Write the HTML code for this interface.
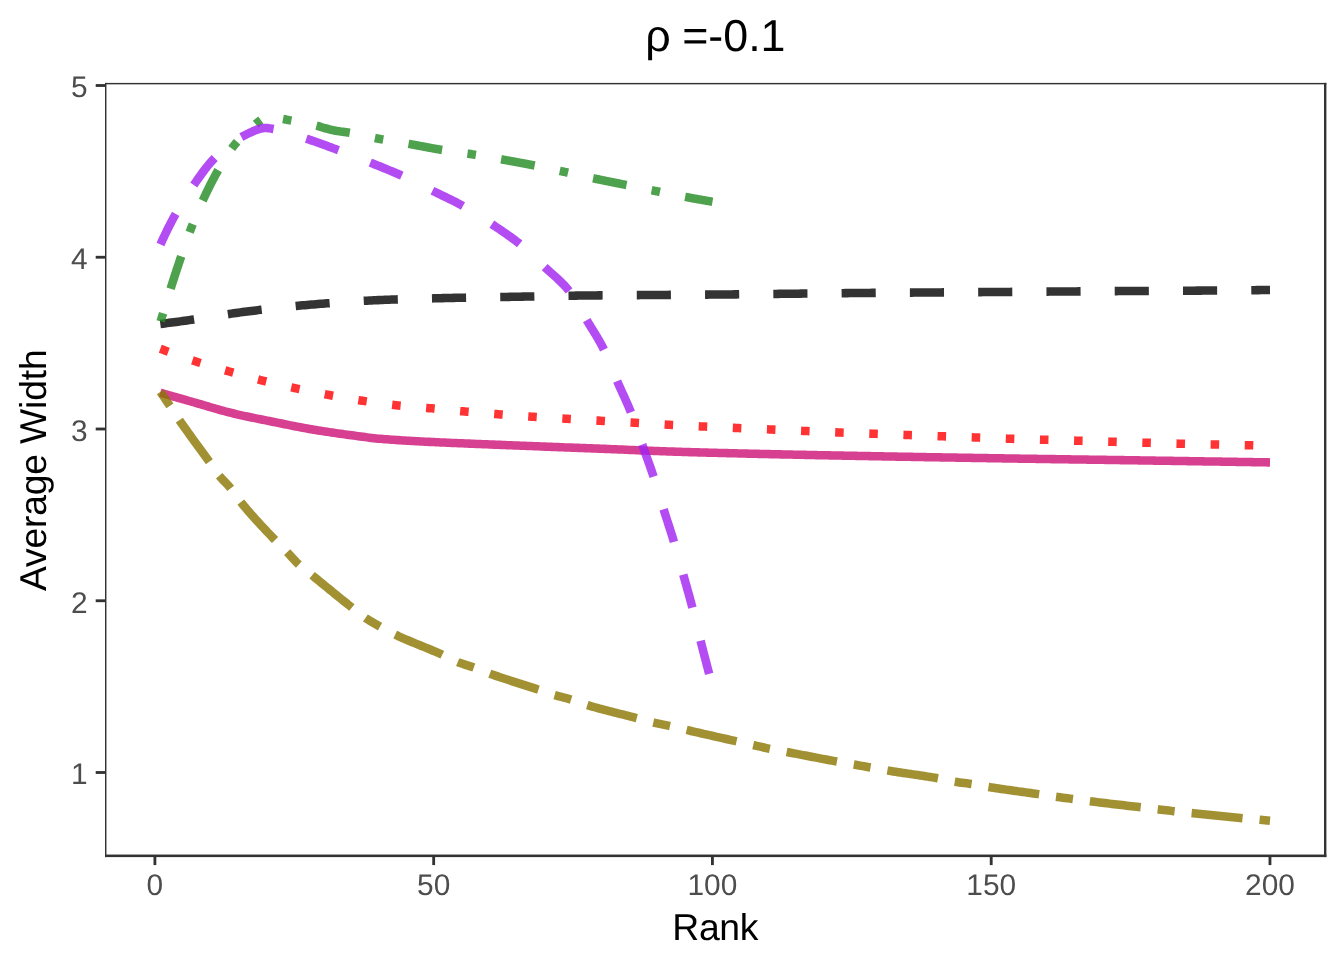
<!DOCTYPE html>
<html><head><meta charset="utf-8"><title>rho = -0.1</title>
<style>
html,body{margin:0;padding:0;background:#fff;}
svg{display:block;font-family:"Liberation Sans",sans-serif;text-rendering:geometricPrecision;}
.tick text{font-size:29.87px;fill:#4D4D4D;}
.axt{font-size:37.33px;fill:#000;}
.ttl{font-size:44.8px;fill:#000;}
</style></head>
<body>
<svg width="1344" height="960" viewBox="0 0 1344 960">
<rect width="1344" height="960" fill="#fff"/>
<g class="lines">
<path d="M160.30,392.70 L162.52,393.34 L164.75,393.98 L166.97,394.62 L169.20,395.26 L171.42,395.90 L173.64,396.53 L175.87,397.17 L178.09,397.81 L180.31,398.44 L182.54,399.08 L184.76,399.71 L186.99,400.34 L189.21,400.98 L191.43,401.61 L193.66,402.25 L195.88,402.90 L198.11,403.55 L200.33,404.20 L202.55,404.86 L204.78,405.52 L207.00,406.17 L209.22,406.83 L211.45,407.48 L213.67,408.13 L215.90,408.77 L218.12,409.40 L220.34,410.03 L222.57,410.64 L224.79,411.25 L227.02,411.84 L229.24,412.42 L231.46,412.98 L233.69,413.52 L235.91,414.05 L238.13,414.57 L240.36,415.08 L242.58,415.57 L244.81,416.06 L247.03,416.54 L249.25,417.01 L251.48,417.47 L253.70,417.93 L255.93,418.38 L258.15,418.83 L260.37,419.28 L262.60,419.72 L264.82,420.16 L267.04,420.61 L269.27,421.05 L271.49,421.50 L273.72,421.94 L275.94,422.39 L278.16,422.85 L280.39,423.30 L282.61,423.75 L284.84,424.21 L287.06,424.66 L289.28,425.11 L291.51,425.56 L293.73,426.01 L295.95,426.45 L298.18,426.88 L300.40,427.31 L302.63,427.73 L304.85,428.14 L307.07,428.54 L309.30,428.94 L311.52,429.32 L313.75,429.69 L315.97,430.06 L318.19,430.42 L320.42,430.77 L322.64,431.12 L324.86,431.46 L327.09,431.80 L329.31,432.13 L331.54,432.46 L333.76,432.79 L335.98,433.11 L338.21,433.43 L340.43,433.74 L342.66,434.05 L344.88,434.36 L347.10,434.66 L349.33,434.97 L351.55,435.27 L353.77,435.57 L356.00,435.87 L358.22,436.18 L360.45,436.49 L362.67,436.80 L364.89,437.10 L367.12,437.39 L369.34,437.68 L371.57,437.95 L373.79,438.20 L376.01,438.42 L378.24,438.63 L380.46,438.82 L382.68,439.00 L384.91,439.18 L387.13,439.35 L389.36,439.52 L391.58,439.68 L393.80,439.84 L396.03,439.99 L398.25,440.13 L400.48,440.27 L402.70,440.41 L404.92,440.55 L407.15,440.68 L409.37,440.80 L411.59,440.93 L413.82,441.05 L416.04,441.17 L418.27,441.29 L420.49,441.41 L422.71,441.52 L424.94,441.64 L427.16,441.75 L429.39,441.87 L431.61,441.98 L433.83,442.09 L436.06,442.20 L438.28,442.31 L440.50,442.41 L442.73,442.51 L444.95,442.61 L447.18,442.71 L449.40,442.80 L451.62,442.90 L453.85,442.99 L456.07,443.09 L458.30,443.18 L460.52,443.27 L462.74,443.36 L464.97,443.45 L467.19,443.54 L469.41,443.63 L471.64,443.72 L473.86,443.81 L476.09,443.90 L478.31,443.99 L480.53,444.09 L482.76,444.18 L484.98,444.26 L487.21,444.35 L489.43,444.44 L491.65,444.53 L493.88,444.62 L496.10,444.70 L498.32,444.79 L500.55,444.88 L502.77,444.96 L505.00,445.05 L507.22,445.14 L509.44,445.22 L511.67,445.31 L513.89,445.40 L516.12,445.48 L518.34,445.57 L520.56,445.66 L522.79,445.74 L525.01,445.83 L527.23,445.92 L529.46,446.01 L531.68,446.09 L533.91,446.18 L536.13,446.27 L538.35,446.35 L540.58,446.44 L542.80,446.53 L545.03,446.61 L547.25,446.70 L549.47,446.79 L551.70,446.87 L553.92,446.96 L556.14,447.05 L558.37,447.13 L560.59,447.22 L562.82,447.30 L565.04,447.39 L567.26,447.47 L569.49,447.56 L571.71,447.64 L573.94,447.72 L576.16,447.81 L578.38,447.89 L580.61,447.97 L582.83,448.05 L585.05,448.13 L587.28,448.21 L589.50,448.29 L591.73,448.37 L593.95,448.45 L596.17,448.53 L598.40,448.62 L600.62,448.70 L602.85,448.79 L605.07,448.87 L607.29,448.96 L609.52,449.05 L611.74,449.14 L613.96,449.24 L616.19,449.33 L618.41,449.42 L620.64,449.52 L622.86,449.61 L625.08,449.71 L627.31,449.80 L629.53,449.90 L631.76,449.99 L633.98,450.09 L636.20,450.18 L638.43,450.28 L640.65,450.37 L642.87,450.46 L645.10,450.56 L647.32,450.65 L649.55,450.74 L651.77,450.83 L653.99,450.92 L656.22,451.00 L658.44,451.09 L660.67,451.17 L662.89,451.26 L665.11,451.34 L667.34,451.41 L669.56,451.49 L671.78,451.57 L674.01,451.64 L676.23,451.71 L678.46,451.78 L680.68,451.84 L682.90,451.91 L685.13,451.98 L687.35,452.04 L689.58,452.11 L691.80,452.17 L694.02,452.24 L696.25,452.30 L698.47,452.36 L700.69,452.42 L702.92,452.49 L705.14,452.55 L707.37,452.61 L709.59,452.67 L711.81,452.73 L714.04,452.79 L716.26,452.84 L718.49,452.90 L720.71,452.96 L722.93,453.02 L725.16,453.07 L727.38,453.13 L729.61,453.18 L731.83,453.24 L734.05,453.29 L736.28,453.35 L738.50,453.40 L740.72,453.46 L742.95,453.51 L745.17,453.56 L747.40,453.61 L749.62,453.67 L751.84,453.72 L754.07,453.77 L756.29,453.82 L758.52,453.87 L760.74,453.92 L762.96,453.97 L765.19,454.02 L767.41,454.07 L769.63,454.12 L771.86,454.17 L774.08,454.22 L776.31,454.27 L778.53,454.31 L780.75,454.36 L782.98,454.41 L785.20,454.46 L787.43,454.51 L789.65,454.55 L791.87,454.60 L794.10,454.65 L796.32,454.69 L798.54,454.74 L800.77,454.79 L802.99,454.83 L805.22,454.88 L807.44,454.93 L809.66,454.97 L811.89,455.02 L814.11,455.06 L816.34,455.11 L818.56,455.16 L820.78,455.20 L823.01,455.25 L825.23,455.29 L827.45,455.33 L829.68,455.38 L831.90,455.42 L834.13,455.47 L836.35,455.51 L838.57,455.55 L840.80,455.60 L843.02,455.64 L845.25,455.68 L847.47,455.72 L849.69,455.77 L851.92,455.81 L854.14,455.85 L856.36,455.89 L858.59,455.93 L860.81,455.98 L863.04,456.02 L865.26,456.06 L867.48,456.10 L869.71,456.14 L871.93,456.18 L874.16,456.22 L876.38,456.26 L878.60,456.30 L880.83,456.34 L883.05,456.38 L885.27,456.42 L887.50,456.46 L889.72,456.50 L891.95,456.54 L894.17,456.58 L896.39,456.61 L898.62,456.65 L900.84,456.69 L903.07,456.73 L905.29,456.77 L907.51,456.81 L909.74,456.84 L911.96,456.88 L914.18,456.92 L916.41,456.96 L918.63,457.00 L920.86,457.03 L923.08,457.07 L925.30,457.11 L927.53,457.15 L929.75,457.18 L931.98,457.22 L934.20,457.26 L936.42,457.29 L938.65,457.33 L940.87,457.37 L943.09,457.40 L945.32,457.44 L947.54,457.48 L949.77,457.51 L951.99,457.55 L954.21,457.59 L956.44,457.62 L958.66,457.66 L960.89,457.70 L963.11,457.73 L965.33,457.77 L967.56,457.81 L969.78,457.84 L972.00,457.88 L974.23,457.91 L976.45,457.95 L978.68,457.99 L980.90,458.02 L983.12,458.06 L985.35,458.09 L987.57,458.13 L989.80,458.17 L992.02,458.20 L994.24,458.24 L996.47,458.27 L998.69,458.31 L1000.91,458.34 L1003.14,458.37 L1005.36,458.41 L1007.59,458.44 L1009.81,458.48 L1012.03,458.51 L1014.26,458.55 L1016.48,458.58 L1018.71,458.61 L1020.93,458.65 L1023.15,458.68 L1025.38,458.71 L1027.60,458.75 L1029.82,458.78 L1032.05,458.81 L1034.27,458.85 L1036.50,458.88 L1038.72,458.91 L1040.94,458.95 L1043.17,458.98 L1045.39,459.01 L1047.62,459.04 L1049.84,459.08 L1052.06,459.11 L1054.29,459.14 L1056.51,459.17 L1058.73,459.21 L1060.96,459.24 L1063.18,459.27 L1065.41,459.30 L1067.63,459.34 L1069.85,459.37 L1072.08,459.40 L1074.30,459.43 L1076.53,459.46 L1078.75,459.50 L1080.97,459.53 L1083.20,459.56 L1085.42,459.59 L1087.64,459.63 L1089.87,459.66 L1092.09,459.69 L1094.32,459.72 L1096.54,459.75 L1098.76,459.79 L1100.99,459.82 L1103.21,459.85 L1105.44,459.88 L1107.66,459.92 L1109.88,459.95 L1112.11,459.98 L1114.33,460.01 L1116.55,460.05 L1118.78,460.08 L1121.00,460.11 L1123.23,460.14 L1125.45,460.18 L1127.67,460.21 L1129.90,460.24 L1132.12,460.28 L1134.35,460.31 L1136.57,460.34 L1138.79,460.38 L1141.02,460.41 L1143.24,460.44 L1145.46,460.48 L1147.69,460.51 L1149.91,460.54 L1152.14,460.58 L1154.36,460.61 L1156.58,460.65 L1158.81,460.68 L1161.03,460.71 L1163.26,460.75 L1165.48,460.78 L1167.70,460.82 L1169.93,460.85 L1172.15,460.88 L1174.37,460.92 L1176.60,460.95 L1178.82,460.99 L1181.05,461.02 L1183.27,461.05 L1185.49,461.09 L1187.72,461.12 L1189.94,461.16 L1192.17,461.19 L1194.39,461.23 L1196.61,461.26 L1198.84,461.29 L1201.06,461.33 L1203.28,461.36 L1205.51,461.40 L1207.73,461.43 L1209.96,461.47 L1212.18,461.50 L1214.40,461.53 L1216.63,461.57 L1218.85,461.60 L1221.08,461.64 L1223.30,461.67 L1225.52,461.71 L1227.75,461.74 L1229.97,461.78 L1232.19,461.81 L1234.42,461.84 L1236.64,461.88 L1238.87,461.91 L1241.09,461.95 L1243.31,461.98 L1245.54,462.02 L1247.76,462.05 L1249.99,462.09 L1252.21,462.12 L1254.43,462.16 L1256.66,462.19 L1258.88,462.23 L1261.10,462.26 L1263.33,462.30 L1265.55,462.33 L1267.78,462.37 L1270.00,462.40" fill="none" stroke="#CD1076" stroke-opacity="0.8" stroke-width="8.536" stroke-linejoin="round"/>
<path d="M160.30,324.00 L162.52,323.71 L164.75,323.43 L166.97,323.14 L169.20,322.85 L171.42,322.55 L173.64,322.26 L175.87,321.96 L178.09,321.66 L180.31,321.36 L182.54,321.06 L184.76,320.76 L186.99,320.45 L189.21,320.14 L191.43,319.83 L193.66,319.51 L195.88,319.19 L198.11,318.87 L200.33,318.53 L202.55,318.19 L204.78,317.85 L207.00,317.50 L209.22,317.15 L211.45,316.80 L213.67,316.44 L215.90,316.08 L218.12,315.73 L220.34,315.37 L222.57,315.02 L224.79,314.67 L227.02,314.32 L229.24,313.98 L231.46,313.64 L233.69,313.31 L235.91,312.99 L238.13,312.67 L240.36,312.36 L242.58,312.06 L244.81,311.77 L247.03,311.49 L249.25,311.21 L251.48,310.94 L253.70,310.66 L255.93,310.39 L258.15,310.12 L260.37,309.85 L262.60,309.59 L264.82,309.32 L267.04,309.06 L269.27,308.81 L271.49,308.55 L273.72,308.30 L275.94,308.05 L278.16,307.81 L280.39,307.57 L282.61,307.33 L284.84,307.09 L287.06,306.86 L289.28,306.63 L291.51,306.41 L293.73,306.19 L295.95,305.97 L298.18,305.76 L300.40,305.55 L302.63,305.35 L304.85,305.15 L307.07,304.96 L309.30,304.77 L311.52,304.58 L313.75,304.40 L315.97,304.22 L318.19,304.04 L320.42,303.86 L322.64,303.69 L324.86,303.51 L327.09,303.34 L329.31,303.17 L331.54,303.00 L333.76,302.83 L335.98,302.67 L338.21,302.51 L340.43,302.35 L342.66,302.19 L344.88,302.04 L347.10,301.89 L349.33,301.74 L351.55,301.59 L353.77,301.45 L356.00,301.31 L358.22,301.17 L360.45,301.04 L362.67,300.91 L364.89,300.79 L367.12,300.67 L369.34,300.55 L371.57,300.44 L373.79,300.33 L376.01,300.23 L378.24,300.13 L380.46,300.03 L382.68,299.94 L384.91,299.85 L387.13,299.77 L389.36,299.68 L391.58,299.60 L393.80,299.52 L396.03,299.44 L398.25,299.37 L400.48,299.29 L402.70,299.22 L404.92,299.15 L407.15,299.08 L409.37,299.01 L411.59,298.95 L413.82,298.88 L416.04,298.82 L418.27,298.76 L420.49,298.69 L422.71,298.63 L424.94,298.58 L427.16,298.52 L429.39,298.46 L431.61,298.41 L433.83,298.35 L436.06,298.30 L438.28,298.24 L440.50,298.19 L442.73,298.14 L444.95,298.09 L447.18,298.04 L449.40,297.99 L451.62,297.94 L453.85,297.89 L456.07,297.84 L458.30,297.79 L460.52,297.75 L462.74,297.71 L464.97,297.66 L467.19,297.62 L469.41,297.58 L471.64,297.54 L473.86,297.50 L476.09,297.46 L478.31,297.42 L480.53,297.38 L482.76,297.34 L484.98,297.30 L487.21,297.26 L489.43,297.23 L491.65,297.19 L493.88,297.15 L496.10,297.11 L498.32,297.07 L500.55,297.04 L502.77,297.00 L505.00,296.96 L507.22,296.92 L509.44,296.88 L511.67,296.85 L513.89,296.81 L516.12,296.77 L518.34,296.73 L520.56,296.68 L522.79,296.64 L525.01,296.60 L527.23,296.55 L529.46,296.51 L531.68,296.46 L533.91,296.42 L536.13,296.37 L538.35,296.33 L540.58,296.28 L542.80,296.24 L545.03,296.19 L547.25,296.14 L549.47,296.10 L551.70,296.05 L553.92,296.01 L556.14,295.97 L558.37,295.92 L560.59,295.88 L562.82,295.84 L565.04,295.80 L567.26,295.76 L569.49,295.73 L571.71,295.69 L573.94,295.66 L576.16,295.62 L578.38,295.59 L580.61,295.56 L582.83,295.54 L585.05,295.51 L587.28,295.49 L589.50,295.46 L591.73,295.44 L593.95,295.42 L596.17,295.40 L598.40,295.38 L600.62,295.36 L602.85,295.35 L605.07,295.33 L607.29,295.31 L609.52,295.30 L611.74,295.28 L613.96,295.26 L616.19,295.25 L618.41,295.23 L620.64,295.22 L622.86,295.21 L625.08,295.19 L627.31,295.18 L629.53,295.16 L631.76,295.15 L633.98,295.13 L636.20,295.12 L638.43,295.11 L640.65,295.09 L642.87,295.08 L645.10,295.06 L647.32,295.05 L649.55,295.03 L651.77,295.02 L653.99,295.00 L656.22,294.98 L658.44,294.97 L660.67,294.95 L662.89,294.94 L665.11,294.92 L667.34,294.91 L669.56,294.89 L671.78,294.87 L674.01,294.86 L676.23,294.84 L678.46,294.83 L680.68,294.81 L682.90,294.80 L685.13,294.78 L687.35,294.77 L689.58,294.75 L691.80,294.74 L694.02,294.72 L696.25,294.70 L698.47,294.69 L700.69,294.67 L702.92,294.65 L705.14,294.64 L707.37,294.62 L709.59,294.60 L711.81,294.59 L714.04,294.57 L716.26,294.55 L718.49,294.53 L720.71,294.51 L722.93,294.49 L725.16,294.47 L727.38,294.45 L729.61,294.43 L731.83,294.41 L734.05,294.38 L736.28,294.36 L738.50,294.34 L740.72,294.31 L742.95,294.29 L745.17,294.27 L747.40,294.24 L749.62,294.22 L751.84,294.19 L754.07,294.17 L756.29,294.14 L758.52,294.11 L760.74,294.09 L762.96,294.06 L765.19,294.04 L767.41,294.01 L769.63,293.98 L771.86,293.96 L774.08,293.93 L776.31,293.91 L778.53,293.88 L780.75,293.85 L782.98,293.83 L785.20,293.80 L787.43,293.78 L789.65,293.75 L791.87,293.73 L794.10,293.70 L796.32,293.68 L798.54,293.65 L800.77,293.63 L802.99,293.60 L805.22,293.58 L807.44,293.55 L809.66,293.53 L811.89,293.50 L814.11,293.48 L816.34,293.45 L818.56,293.42 L820.78,293.40 L823.01,293.37 L825.23,293.35 L827.45,293.32 L829.68,293.30 L831.90,293.27 L834.13,293.25 L836.35,293.22 L838.57,293.20 L840.80,293.18 L843.02,293.15 L845.25,293.13 L847.47,293.11 L849.69,293.09 L851.92,293.06 L854.14,293.04 L856.36,293.02 L858.59,293.00 L860.81,292.98 L863.04,292.97 L865.26,292.95 L867.48,292.93 L869.71,292.91 L871.93,292.89 L874.16,292.88 L876.38,292.86 L878.60,292.84 L880.83,292.83 L883.05,292.81 L885.27,292.79 L887.50,292.78 L889.72,292.76 L891.95,292.75 L894.17,292.73 L896.39,292.71 L898.62,292.70 L900.84,292.68 L903.07,292.67 L905.29,292.65 L907.51,292.64 L909.74,292.62 L911.96,292.61 L914.18,292.59 L916.41,292.58 L918.63,292.56 L920.86,292.54 L923.08,292.53 L925.30,292.51 L927.53,292.50 L929.75,292.48 L931.98,292.46 L934.20,292.45 L936.42,292.43 L938.65,292.41 L940.87,292.40 L943.09,292.38 L945.32,292.37 L947.54,292.35 L949.77,292.33 L951.99,292.32 L954.21,292.30 L956.44,292.28 L958.66,292.27 L960.89,292.25 L963.11,292.24 L965.33,292.22 L967.56,292.20 L969.78,292.19 L972.00,292.17 L974.23,292.16 L976.45,292.14 L978.68,292.12 L980.90,292.11 L983.12,292.09 L985.35,292.07 L987.57,292.06 L989.80,292.04 L992.02,292.03 L994.24,292.01 L996.47,291.99 L998.69,291.98 L1000.91,291.96 L1003.14,291.94 L1005.36,291.93 L1007.59,291.91 L1009.81,291.90 L1012.03,291.88 L1014.26,291.86 L1016.48,291.85 L1018.71,291.83 L1020.93,291.81 L1023.15,291.80 L1025.38,291.78 L1027.60,291.77 L1029.82,291.75 L1032.05,291.73 L1034.27,291.72 L1036.50,291.70 L1038.72,291.68 L1040.94,291.67 L1043.17,291.65 L1045.39,291.64 L1047.62,291.62 L1049.84,291.60 L1052.06,291.59 L1054.29,291.57 L1056.51,291.55 L1058.73,291.54 L1060.96,291.52 L1063.18,291.51 L1065.41,291.49 L1067.63,291.47 L1069.85,291.46 L1072.08,291.44 L1074.30,291.42 L1076.53,291.41 L1078.75,291.39 L1080.97,291.37 L1083.20,291.36 L1085.42,291.34 L1087.64,291.32 L1089.87,291.31 L1092.09,291.29 L1094.32,291.27 L1096.54,291.25 L1098.76,291.24 L1100.99,291.22 L1103.21,291.20 L1105.44,291.19 L1107.66,291.17 L1109.88,291.15 L1112.11,291.14 L1114.33,291.12 L1116.55,291.11 L1118.78,291.09 L1121.00,291.07 L1123.23,291.06 L1125.45,291.04 L1127.67,291.03 L1129.90,291.01 L1132.12,291.00 L1134.35,290.98 L1136.57,290.97 L1138.79,290.96 L1141.02,290.94 L1143.24,290.93 L1145.46,290.92 L1147.69,290.90 L1149.91,290.89 L1152.14,290.88 L1154.36,290.87 L1156.58,290.85 L1158.81,290.84 L1161.03,290.83 L1163.26,290.82 L1165.48,290.81 L1167.70,290.79 L1169.93,290.78 L1172.15,290.77 L1174.37,290.76 L1176.60,290.75 L1178.82,290.74 L1181.05,290.72 L1183.27,290.71 L1185.49,290.70 L1187.72,290.69 L1189.94,290.67 L1192.17,290.66 L1194.39,290.65 L1196.61,290.64 L1198.84,290.62 L1201.06,290.61 L1203.28,290.59 L1205.51,290.58 L1207.73,290.56 L1209.96,290.55 L1212.18,290.53 L1214.40,290.52 L1216.63,290.50 L1218.85,290.49 L1221.08,290.47 L1223.30,290.45 L1225.52,290.43 L1227.75,290.42 L1229.97,290.40 L1232.19,290.38 L1234.42,290.36 L1236.64,290.34 L1238.87,290.32 L1241.09,290.30 L1243.31,290.27 L1245.54,290.25 L1247.76,290.23 L1249.99,290.21 L1252.21,290.19 L1254.43,290.16 L1256.66,290.14 L1258.88,290.12 L1261.10,290.09 L1263.33,290.07 L1265.55,290.05 L1267.78,290.02 L1270.00,290.00" fill="none" stroke="#000000" stroke-opacity="0.8" stroke-width="8.536" stroke-linejoin="round" stroke-dasharray="34.14,34.14"/>
<path d="M160.30,348.80 L162.52,349.62 L164.75,350.43 L166.97,351.24 L169.20,352.06 L171.42,352.87 L173.64,353.69 L175.87,354.51 L178.09,355.32 L180.31,356.13 L182.54,356.94 L184.76,357.73 L186.99,358.52 L189.21,359.30 L191.43,360.06 L193.66,360.81 L195.88,361.55 L198.11,362.27 L200.33,362.98 L202.55,363.67 L204.78,364.36 L207.00,365.04 L209.22,365.71 L211.45,366.37 L213.67,367.02 L215.90,367.67 L218.12,368.32 L220.34,368.96 L222.57,369.59 L224.79,370.23 L227.02,370.86 L229.24,371.50 L231.46,372.13 L233.69,372.76 L235.91,373.39 L238.13,374.02 L240.36,374.64 L242.58,375.26 L244.81,375.87 L247.03,376.48 L249.25,377.09 L251.48,377.69 L253.70,378.28 L255.93,378.87 L258.15,379.45 L260.37,380.02 L262.60,380.59 L264.82,381.15 L267.04,381.70 L269.27,382.25 L271.49,382.79 L273.72,383.33 L275.94,383.86 L278.16,384.39 L280.39,384.91 L282.61,385.42 L284.84,385.94 L287.06,386.44 L289.28,386.94 L291.51,387.43 L293.73,387.92 L295.95,388.40 L298.18,388.88 L300.40,389.35 L302.63,389.82 L304.85,390.28 L307.07,390.74 L309.30,391.19 L311.52,391.64 L313.75,392.08 L315.97,392.52 L318.19,392.95 L320.42,393.38 L322.64,393.81 L324.86,394.23 L327.09,394.65 L329.31,395.06 L331.54,395.47 L333.76,395.88 L335.98,396.28 L338.21,396.68 L340.43,397.08 L342.66,397.48 L344.88,397.87 L347.10,398.26 L349.33,398.64 L351.55,399.01 L353.77,399.38 L356.00,399.74 L358.22,400.09 L360.45,400.44 L362.67,400.78 L364.89,401.11 L367.12,401.43 L369.34,401.76 L371.57,402.08 L373.79,402.40 L376.01,402.71 L378.24,403.01 L380.46,403.31 L382.68,403.61 L384.91,403.89 L387.13,404.17 L389.36,404.44 L391.58,404.70 L393.80,404.96 L396.03,405.20 L398.25,405.43 L400.48,405.65 L402.70,405.87 L404.92,406.07 L407.15,406.27 L409.37,406.46 L411.59,406.65 L413.82,406.84 L416.04,407.02 L418.27,407.20 L420.49,407.39 L422.71,407.57 L424.94,407.76 L427.16,407.95 L429.39,408.15 L431.61,408.35 L433.83,408.56 L436.06,408.77 L438.28,408.99 L440.50,409.20 L442.73,409.42 L444.95,409.64 L447.18,409.86 L449.40,410.08 L451.62,410.30 L453.85,410.51 L456.07,410.73 L458.30,410.94 L460.52,411.14 L462.74,411.34 L464.97,411.54 L467.19,411.73 L469.41,411.92 L471.64,412.11 L473.86,412.30 L476.09,412.48 L478.31,412.66 L480.53,412.84 L482.76,413.02 L484.98,413.20 L487.21,413.37 L489.43,413.55 L491.65,413.72 L493.88,413.89 L496.10,414.07 L498.32,414.24 L500.55,414.41 L502.77,414.58 L505.00,414.75 L507.22,414.92 L509.44,415.09 L511.67,415.26 L513.89,415.43 L516.12,415.60 L518.34,415.76 L520.56,415.92 L522.79,416.08 L525.01,416.24 L527.23,416.40 L529.46,416.55 L531.68,416.70 L533.91,416.84 L536.13,416.98 L538.35,417.12 L540.58,417.26 L542.80,417.39 L545.03,417.52 L547.25,417.65 L549.47,417.78 L551.70,417.90 L553.92,418.03 L556.14,418.16 L558.37,418.28 L560.59,418.41 L562.82,418.54 L565.04,418.66 L567.26,418.79 L569.49,418.93 L571.71,419.06 L573.94,419.19 L576.16,419.32 L578.38,419.45 L580.61,419.58 L582.83,419.71 L585.05,419.84 L587.28,419.97 L589.50,420.10 L591.73,420.23 L593.95,420.37 L596.17,420.50 L598.40,420.63 L600.62,420.76 L602.85,420.89 L605.07,421.02 L607.29,421.15 L609.52,421.28 L611.74,421.41 L613.96,421.54 L616.19,421.67 L618.41,421.80 L620.64,421.93 L622.86,422.06 L625.08,422.18 L627.31,422.31 L629.53,422.44 L631.76,422.57 L633.98,422.70 L636.20,422.84 L638.43,422.97 L640.65,423.10 L642.87,423.23 L645.10,423.37 L647.32,423.50 L649.55,423.63 L651.77,423.77 L653.99,423.90 L656.22,424.03 L658.44,424.16 L660.67,424.29 L662.89,424.42 L665.11,424.55 L667.34,424.67 L669.56,424.79 L671.78,424.92 L674.01,425.03 L676.23,425.15 L678.46,425.27 L680.68,425.39 L682.90,425.50 L685.13,425.62 L687.35,425.73 L689.58,425.84 L691.80,425.96 L694.02,426.07 L696.25,426.18 L698.47,426.28 L700.69,426.39 L702.92,426.50 L705.14,426.60 L707.37,426.70 L709.59,426.80 L711.81,426.90 L714.04,427.00 L716.26,427.10 L718.49,427.20 L720.71,427.30 L722.93,427.39 L725.16,427.49 L727.38,427.58 L729.61,427.68 L731.83,427.77 L734.05,427.87 L736.28,427.97 L738.50,428.07 L740.72,428.16 L742.95,428.26 L745.17,428.36 L747.40,428.46 L749.62,428.55 L751.84,428.65 L754.07,428.75 L756.29,428.85 L758.52,428.94 L760.74,429.04 L762.96,429.14 L765.19,429.23 L767.41,429.33 L769.63,429.43 L771.86,429.53 L774.08,429.62 L776.31,429.72 L778.53,429.82 L780.75,429.92 L782.98,430.01 L785.20,430.11 L787.43,430.21 L789.65,430.31 L791.87,430.40 L794.10,430.50 L796.32,430.60 L798.54,430.69 L800.77,430.79 L802.99,430.89 L805.22,430.99 L807.44,431.09 L809.66,431.18 L811.89,431.29 L814.11,431.39 L816.34,431.49 L818.56,431.59 L820.78,431.69 L823.01,431.79 L825.23,431.89 L827.45,431.99 L829.68,432.09 L831.90,432.18 L834.13,432.28 L836.35,432.37 L838.57,432.46 L840.80,432.55 L843.02,432.64 L845.25,432.72 L847.47,432.81 L849.69,432.89 L851.92,432.97 L854.14,433.05 L856.36,433.13 L858.59,433.21 L860.81,433.29 L863.04,433.37 L865.26,433.45 L867.48,433.53 L869.71,433.61 L871.93,433.69 L874.16,433.77 L876.38,433.86 L878.60,433.94 L880.83,434.02 L883.05,434.10 L885.27,434.18 L887.50,434.26 L889.72,434.34 L891.95,434.42 L894.17,434.50 L896.39,434.59 L898.62,434.67 L900.84,434.75 L903.07,434.83 L905.29,434.91 L907.51,434.99 L909.74,435.07 L911.96,435.15 L914.18,435.24 L916.41,435.32 L918.63,435.40 L920.86,435.48 L923.08,435.56 L925.30,435.65 L927.53,435.73 L929.75,435.81 L931.98,435.89 L934.20,435.97 L936.42,436.05 L938.65,436.14 L940.87,436.22 L943.09,436.30 L945.32,436.38 L947.54,436.46 L949.77,436.54 L951.99,436.62 L954.21,436.71 L956.44,436.79 L958.66,436.87 L960.89,436.95 L963.11,437.03 L965.33,437.11 L967.56,437.19 L969.78,437.27 L972.00,437.35 L974.23,437.44 L976.45,437.52 L978.68,437.60 L980.90,437.68 L983.12,437.77 L985.35,437.85 L987.57,437.94 L989.80,438.02 L992.02,438.11 L994.24,438.19 L996.47,438.27 L998.69,438.36 L1000.91,438.44 L1003.14,438.52 L1005.36,438.59 L1007.59,438.67 L1009.81,438.74 L1012.03,438.82 L1014.26,438.89 L1016.48,438.95 L1018.71,439.02 L1020.93,439.09 L1023.15,439.15 L1025.38,439.21 L1027.60,439.28 L1029.82,439.34 L1032.05,439.40 L1034.27,439.47 L1036.50,439.53 L1038.72,439.59 L1040.94,439.65 L1043.17,439.72 L1045.39,439.78 L1047.62,439.85 L1049.84,439.91 L1052.06,439.98 L1054.29,440.04 L1056.51,440.11 L1058.73,440.18 L1060.96,440.24 L1063.18,440.31 L1065.41,440.37 L1067.63,440.44 L1069.85,440.50 L1072.08,440.57 L1074.30,440.63 L1076.53,440.70 L1078.75,440.76 L1080.97,440.83 L1083.20,440.89 L1085.42,440.96 L1087.64,441.02 L1089.87,441.09 L1092.09,441.15 L1094.32,441.22 L1096.54,441.28 L1098.76,441.35 L1100.99,441.41 L1103.21,441.48 L1105.44,441.54 L1107.66,441.61 L1109.88,441.67 L1112.11,441.74 L1114.33,441.80 L1116.55,441.87 L1118.78,441.93 L1121.00,442.00 L1123.23,442.07 L1125.45,442.13 L1127.67,442.20 L1129.90,442.26 L1132.12,442.33 L1134.35,442.39 L1136.57,442.46 L1138.79,442.52 L1141.02,442.59 L1143.24,442.65 L1145.46,442.72 L1147.69,442.78 L1149.91,442.85 L1152.14,442.92 L1154.36,442.99 L1156.58,443.05 L1158.81,443.12 L1161.03,443.19 L1163.26,443.26 L1165.48,443.32 L1167.70,443.39 L1169.93,443.45 L1172.15,443.52 L1174.37,443.58 L1176.60,443.64 L1178.82,443.70 L1181.05,443.76 L1183.27,443.81 L1185.49,443.87 L1187.72,443.92 L1189.94,443.97 L1192.17,444.02 L1194.39,444.07 L1196.61,444.11 L1198.84,444.16 L1201.06,444.21 L1203.28,444.26 L1205.51,444.30 L1207.73,444.35 L1209.96,444.40 L1212.18,444.44 L1214.40,444.49 L1216.63,444.54 L1218.85,444.59 L1221.08,444.64 L1223.30,444.69 L1225.52,444.73 L1227.75,444.78 L1229.97,444.83 L1232.19,444.88 L1234.42,444.93 L1236.64,444.97 L1238.87,445.02 L1241.09,445.07 L1243.31,445.12 L1245.54,445.17 L1247.76,445.22 L1249.99,445.27 L1252.21,445.32 L1254.43,445.38 L1256.66,445.43 L1258.88,445.48 L1261.10,445.53 L1263.33,445.59 L1265.55,445.64 L1267.78,445.70 L1270.00,445.75" fill="none" stroke="#FF0000" stroke-opacity="0.8" stroke-width="8.536" stroke-linejoin="round" stroke-dasharray="8.54,25.61"/>
<path d="M160.60,321.40 L160.73,320.96 L160.87,320.52 L161.00,320.09 L161.14,319.65 L161.27,319.21 L161.41,318.77 L161.54,318.34 L161.68,317.90 L161.81,317.46 L161.95,317.02 L162.08,316.59 L162.21,316.15 L162.35,315.71 L162.48,315.27 L162.62,314.83 L162.75,314.40 L162.88,313.96 L163.02,313.52 L163.15,313.08 L163.28,312.64 L163.42,312.21 L163.55,311.77 L163.68,311.33 L163.81,310.89 L163.95,310.45 L164.08,310.01 L164.21,309.58 L164.35,309.14 L164.48,308.70 L164.61,308.26 L164.74,307.82 L164.88,307.38 L165.01,306.95 L165.14,306.51 L165.27,306.07 L165.41,305.63 L165.54,305.19 L165.67,304.75 L165.80,304.32 L165.94,303.88 L166.07,303.44 L166.20,303.00 L166.33,302.56 L166.47,302.13 L166.60,301.69 L166.73,301.25 L166.87,300.81 L167.00,300.37 L167.13,299.93 L167.27,299.50 L167.40,299.06 L167.53,298.62 L167.67,298.18 L167.80,297.74 L167.94,297.31 L168.07,296.87 L168.20,296.43 L168.34,295.99 L168.47,295.56 L168.61,295.12 L168.74,294.68 L168.88,294.24 L169.01,293.81 L169.15,293.37 L169.28,292.93 L169.42,292.49 L169.56,292.06 L169.69,291.62 L169.83,291.18 L169.96,290.75 L170.10,290.31 L170.24,289.87 L170.38,289.44 L170.51,289.00 L170.65,288.56 L170.79,288.13 L170.93,287.69 L171.07,287.25 L171.20,286.82 L171.34,286.38 L171.48,285.94 L171.62,285.51 L171.76,285.07 L171.90,284.63 L172.04,284.20 L172.18,283.76 L172.32,283.33 L172.46,282.89 L172.60,282.45 L172.74,282.02 L172.88,281.58 L173.02,281.15 L173.16,280.71 L173.30,280.27 L173.44,279.84 L173.58,279.40 L173.72,278.97 L173.86,278.53 L174.00,278.10 L174.14,277.66 L174.28,277.22 L174.42,276.79 L174.56,276.35 L174.71,275.92 L174.85,275.48 L174.99,275.05 L175.13,274.61 L175.27,274.18 L175.42,273.74 L175.56,273.30 L175.70,272.87 L175.84,272.43 L175.98,272.00 L176.13,271.56 L176.27,271.13 L176.41,270.69 L176.56,270.26 L176.70,269.82 L176.84,269.39 L176.99,268.95 L177.13,268.52 L177.27,268.08 L177.42,267.65 L177.56,267.22 L177.71,266.78 L177.85,266.35 L178.00,265.91 L178.14,265.48 L178.29,265.04 L178.43,264.61 L178.58,264.17 L178.72,263.74 L178.87,263.31 L179.01,262.87 L179.16,262.44 L179.30,262.00 L179.45,261.57 L179.59,261.14 L179.74,260.70 L179.89,260.27 L180.03,259.83 L180.18,259.40 L180.33,258.97 L180.47,258.53 L180.62,258.10 L180.77,257.67 L180.92,257.23 L181.06,256.80 L181.21,256.37 L181.36,255.93 L181.51,255.50 L181.65,255.07 L181.80,254.63 L181.95,254.20 L182.10,253.76 L182.24,253.33 L182.39,252.90 L182.54,252.46 L182.69,252.03 L182.84,251.60 L182.98,251.16 L183.13,250.73 L183.28,250.30 L183.43,249.86 L183.58,249.43 L183.72,249.00 L183.87,248.56 L184.02,248.13 L184.17,247.70 L184.32,247.26 L184.47,246.83 L184.62,246.40 L184.77,245.96 L184.91,245.53 L185.06,245.10 L185.21,244.66 L185.36,244.23 L185.51,243.80 L185.67,243.37 L185.82,242.93 L185.97,242.50 L186.12,242.07 L186.27,241.64 L186.42,241.20 L186.57,240.77 L186.72,240.34 L186.88,239.91 L187.03,239.48 L187.18,239.04 L187.34,238.61 L187.49,238.18 L187.64,237.75 L187.80,237.32 L187.95,236.89 L188.11,236.46 L188.26,236.03 L188.42,235.60 L188.58,235.16 L188.73,234.73 L188.89,234.30 L189.05,233.87 L189.20,233.45 L189.36,233.02 L189.52,232.59 L189.68,232.16 L189.84,231.73 L190.00,231.30 L190.16,230.87 L190.32,230.44 L190.48,230.01 L190.64,229.59 L190.81,229.16 L190.97,228.73 L191.13,228.30 L191.30,227.88 L191.46,227.45 L191.63,227.02 L191.79,226.60 L191.96,226.17 L192.12,225.74 L192.29,225.32 L192.46,224.89 L192.62,224.47 L192.79,224.04 L192.96,223.61 L193.13,223.19 L193.29,222.76 L193.46,222.34 L193.63,221.91 L193.80,221.48 L193.97,221.06 L194.14,220.63 L194.31,220.21 L194.49,219.78 L194.66,219.36 L194.83,218.93 L195.00,218.51 L195.17,218.08 L195.35,217.66 L195.52,217.24 L195.70,216.81 L195.87,216.39 L196.04,215.96 L196.22,215.54 L196.40,215.12 L196.57,214.69 L196.75,214.27 L196.92,213.85 L197.10,213.43 L197.28,213.00 L197.46,212.58 L197.64,212.16 L197.82,211.74 L197.99,211.31 L198.17,210.89 L198.35,210.47 L198.54,210.05 L198.72,209.63 L198.90,209.21 L199.08,208.79 L199.26,208.37 L199.44,207.95 L199.63,207.53 L199.81,207.11 L199.99,206.69 L200.18,206.27 L200.36,205.85 L200.55,205.43 L200.73,205.01 L200.92,204.60 L201.11,204.18 L201.29,203.76 L201.48,203.34 L201.67,202.93 L201.86,202.51 L202.05,202.09 L202.23,201.68 L202.42,201.26 L202.61,200.84 L202.80,200.43 L202.99,200.01 L203.19,199.60 L203.38,199.18 L203.57,198.77 L203.76,198.35 L203.95,197.94 L204.15,197.52 L204.34,197.11 L204.54,196.69 L204.73,196.28 L204.92,195.86 L205.12,195.45 L205.32,195.04 L205.51,194.62 L205.71,194.21 L205.91,193.79 L206.10,193.38 L206.30,192.97 L206.50,192.55 L206.70,192.14 L206.90,191.73 L207.10,191.31 L207.30,190.90 L207.50,190.49 L207.70,190.08 L207.90,189.67 L208.10,189.25 L208.30,188.84 L208.51,188.43 L208.71,188.02 L208.91,187.61 L209.12,187.20 L209.32,186.79 L209.53,186.38 L209.73,185.97 L209.94,185.56 L210.15,185.15 L210.35,184.74 L210.56,184.33 L210.77,183.92 L210.98,183.51 L211.19,183.10 L211.40,182.69 L211.61,182.29 L211.82,181.88 L212.03,181.47 L212.24,181.07 L212.45,180.66 L212.67,180.25 L212.88,179.85 L213.09,179.44 L213.31,179.04 L213.52,178.63 L213.74,178.23 L213.95,177.82 L214.17,177.42 L214.39,177.02 L214.60,176.61 L214.82,176.21 L215.04,175.81 L215.26,175.41 L215.48,175.01 L215.70,174.61 L215.92,174.21 L216.14,173.81 L216.36,173.41 L216.59,173.01 L216.81,172.61 L217.03,172.21 L217.26,171.81 L217.48,171.41 L217.71,171.02 L217.93,170.62 L218.16,170.22 L218.38,169.83 L218.61,169.43 L218.84,169.03 L219.06,168.64 L219.29,168.24 L219.52,167.84 L219.75,167.44 L219.98,167.04 L220.21,166.65 L220.44,166.25 L220.67,165.85 L220.90,165.45 L221.13,165.05 L221.36,164.65 L221.59,164.26 L221.83,163.86 L222.06,163.46 L222.29,163.06 L222.53,162.67 L222.76,162.27 L223.00,161.87 L223.24,161.47 L223.47,161.08 L223.71,160.68 L223.95,160.29 L224.19,159.89 L224.43,159.50 L224.67,159.10 L224.91,158.71 L225.15,158.32 L225.40,157.92 L225.64,157.53 L225.89,157.14 L226.13,156.75 L226.38,156.36 L226.62,155.97 L226.87,155.58 L227.12,155.20 L227.37,154.81 L227.62,154.43 L227.87,154.04 L228.13,153.66 L228.38,153.28 L228.64,152.89 L228.89,152.51 L229.15,152.14 L229.41,151.76 L229.67,151.38 L229.93,151.00 L230.19,150.63 L230.45,150.26 L230.71,149.88 L230.98,149.51 L231.25,149.14 L231.51,148.78 L231.78,148.41 L232.05,148.05 L232.32,147.68 L232.59,147.32 L232.87,146.96 L233.14,146.60 L233.42,146.24 L233.70,145.89 L233.97,145.53 L234.25,145.18 L234.54,144.83 L234.82,144.48 L235.11,144.13 L235.39,143.79 L235.68,143.44 L235.97,143.09 L236.27,142.75 L236.56,142.41 L236.86,142.06 L237.16,141.72 L237.46,141.38 L237.76,141.04 L238.07,140.70 L238.37,140.36 L238.68,140.03 L238.99,139.69 L239.30,139.36 L239.61,139.02 L239.93,138.69 L240.24,138.35 L240.56,138.02 L240.88,137.69 L241.19,137.36 L241.52,137.03 L241.84,136.71 L242.16,136.38 L242.49,136.05 L242.81,135.73 L243.14,135.40 L243.47,135.08 L243.79,134.75 L244.12,134.43 L244.46,134.11 L244.79,133.79 L245.12,133.47 L245.46,133.15 L245.79,132.83 L246.13,132.52 L246.46,132.20 L246.80,131.88 L247.14,131.57 L247.48,131.26 L247.82,130.94 L248.16,130.63 L248.50,130.32 L248.84,130.01 L249.18,129.70 L249.53,129.39 L249.87,129.08 L250.21,128.77 L250.56,128.46 L250.90,128.16 L251.25,127.85 L251.59,127.55 L251.94,127.24 L252.28,126.94 L252.63,126.64 L252.97,126.34 L253.32,126.03 L253.67,125.73 L254.01,125.43 L254.36,125.13 L254.71,124.84 L255.05,124.54 L255.40,124.24 L255.75,123.94 L256.10,123.65 L256.45,123.36 L256.80,123.07 L257.16,122.78 L257.51,122.50 L257.87,122.21 L258.24,121.93 L258.60,121.66 L258.97,121.38 L259.33,121.10 L259.70,120.82 L260.07,120.55 L260.43,120.27 L260.80,120.00" fill="none" stroke="#228B22" stroke-opacity="0.8" stroke-width="8.536" stroke-linejoin="round" stroke-dasharray="8.54,25.61,34.14,25.61"/>
<path d="M283.00,118.95 L283.86,119.12 L284.72,119.30 L285.58,119.47 L286.44,119.65 L287.30,119.82 L288.16,119.99 L289.03,120.16 L289.89,120.33 L290.75,120.50 L291.61,120.66 L292.47,120.83 L293.33,120.99 L294.19,121.15 L295.05,121.31 L295.91,121.47 L296.77,121.63 L297.63,121.79 L298.49,121.95 L299.35,122.11 L300.21,122.27 L301.08,122.43 L301.94,122.60 L302.80,122.76 L303.66,122.92 L304.52,123.09 L305.38,123.26 L306.24,123.43 L307.10,123.60 L307.96,123.78 L308.82,123.96 L309.68,124.14 L310.54,124.32 L311.40,124.51 L312.26,124.70 L313.13,124.90 L313.99,125.09 L314.85,125.30 L315.71,125.50 L316.57,125.72 L317.43,125.94 L318.29,126.19 L319.15,126.45 L320.01,126.71 L320.87,126.98 L321.73,127.25 L322.59,127.52 L323.45,127.78 L324.31,128.02 L325.18,128.25 L326.04,128.48 L326.90,128.71 L327.76,128.94 L328.62,129.16 L329.48,129.37 L330.34,129.59 L331.20,129.79 L332.06,129.99 L332.92,130.18 L333.78,130.36 L334.64,130.53 L335.50,130.69 L336.36,130.84 L337.23,130.99 L338.09,131.12 L338.95,131.25 L339.81,131.37 L340.67,131.50 L341.53,131.61 L342.39,131.73 L343.25,131.84 L344.11,131.96 L344.97,132.08 L345.83,132.20 L346.69,132.32 L347.55,132.44 L348.41,132.57 L349.28,132.71 L350.14,132.86 L351.00,133.01 L351.86,133.16 L352.72,133.32 L353.58,133.48 L354.44,133.65 L355.30,133.82 L356.16,133.99 L357.02,134.16 L357.88,134.34 L358.74,134.52 L359.60,134.70 L360.46,134.89 L361.33,135.07 L362.19,135.26 L363.05,135.44 L363.91,135.63 L364.77,135.82 L365.63,136.01 L366.49,136.20 L367.35,136.39 L368.21,136.58 L369.07,136.76 L369.93,136.95 L370.79,137.14 L371.65,137.32 L372.52,137.50 L373.38,137.68 L374.24,137.86 L375.10,138.04 L375.96,138.21 L376.82,138.38 L377.68,138.55 L378.54,138.71 L379.40,138.87 L380.26,139.03 L381.12,139.19 L381.98,139.34 L382.84,139.50 L383.70,139.65 L384.57,139.80 L385.43,139.95 L386.29,140.10 L387.15,140.24 L388.01,140.39 L388.87,140.54 L389.73,140.68 L390.59,140.83 L391.45,140.97 L392.31,141.11 L393.17,141.26 L394.03,141.40 L394.89,141.54 L395.75,141.68 L396.62,141.83 L397.48,141.97 L398.34,142.11 L399.20,142.25 L400.06,142.40 L400.92,142.54 L401.78,142.68 L402.64,142.83 L403.50,142.97 L404.36,143.12 L405.22,143.27 L406.08,143.42 L406.94,143.57 L407.80,143.72 L408.67,143.87 L409.53,144.02 L410.39,144.17 L411.25,144.33 L412.11,144.49 L412.97,144.64 L413.83,144.80 L414.69,144.96 L415.55,145.12 L416.41,145.28 L417.27,145.44 L418.13,145.60 L418.99,145.76 L419.85,145.92 L420.72,146.09 L421.58,146.25 L422.44,146.41 L423.30,146.57 L424.16,146.73 L425.02,146.90 L425.88,147.06 L426.74,147.22 L427.60,147.38 L428.46,147.54 L429.32,147.70 L430.18,147.86 L431.04,148.02 L431.90,148.17 L432.77,148.33 L433.63,148.48 L434.49,148.64 L435.35,148.79 L436.21,148.94 L437.07,149.09 L437.93,149.24 L438.79,149.39 L439.65,149.53 L440.51,149.68 L441.37,149.82 L442.23,149.96 L443.09,150.10 L443.95,150.23 L444.82,150.36 L445.68,150.50 L446.54,150.63 L447.40,150.76 L448.26,150.88 L449.12,151.01 L449.98,151.13 L450.84,151.26 L451.70,151.38 L452.56,151.50 L453.42,151.62 L454.28,151.74 L455.14,151.86 L456.01,151.98 L456.87,152.10 L457.73,152.22 L458.59,152.34 L459.45,152.46 L460.31,152.58 L461.17,152.70 L462.03,152.82 L462.89,152.94 L463.75,153.06 L464.61,153.18 L465.47,153.31 L466.33,153.43 L467.19,153.56 L468.06,153.68 L468.92,153.81 L469.78,153.94 L470.64,154.08 L471.50,154.21 L472.36,154.35 L473.22,154.48 L474.08,154.62 L474.94,154.76 L475.80,154.90 L476.66,155.04 L477.52,155.19 L478.38,155.33 L479.24,155.47 L480.11,155.62 L480.97,155.76 L481.83,155.91 L482.69,156.06 L483.55,156.21 L484.41,156.35 L485.27,156.50 L486.13,156.65 L486.99,156.80 L487.85,156.96 L488.71,157.11 L489.57,157.26 L490.43,157.41 L491.29,157.56 L492.16,157.72 L493.02,157.87 L493.88,158.02 L494.74,158.18 L495.60,158.33 L496.46,158.48 L497.32,158.64 L498.18,158.79 L499.04,158.94 L499.90,159.10 L500.76,159.25 L501.62,159.41 L502.48,159.56 L503.34,159.71 L504.21,159.87 L505.07,160.02 L505.93,160.17 L506.79,160.33 L507.65,160.48 L508.51,160.64 L509.37,160.79 L510.23,160.95 L511.09,161.10 L511.95,161.26 L512.81,161.41 L513.67,161.57 L514.53,161.72 L515.39,161.88 L516.26,162.04 L517.12,162.20 L517.98,162.35 L518.84,162.51 L519.70,162.67 L520.56,162.83 L521.42,162.99 L522.28,163.15 L523.14,163.31 L524.00,163.47 L524.86,163.64 L525.72,163.80 L526.58,163.96 L527.44,164.13 L528.31,164.29 L529.17,164.46 L530.03,164.62 L530.89,164.79 L531.75,164.96 L532.61,165.13 L533.47,165.30 L534.33,165.47 L535.19,165.64 L536.05,165.81 L536.91,165.98 L537.77,166.16 L538.63,166.34 L539.49,166.51 L540.36,166.69 L541.22,166.87 L542.08,167.05 L542.94,167.23 L543.80,167.41 L544.66,167.60 L545.52,167.78 L546.38,167.96 L547.24,168.15 L548.10,168.33 L548.96,168.52 L549.82,168.71 L550.68,168.89 L551.55,169.08 L552.41,169.27 L553.27,169.46 L554.13,169.64 L554.99,169.83 L555.85,170.02 L556.71,170.21 L557.57,170.40 L558.43,170.59 L559.29,170.78 L560.15,170.96 L561.01,171.15 L561.87,171.34 L562.73,171.53 L563.60,171.72 L564.46,171.90 L565.32,172.09 L566.18,172.28 L567.04,172.47 L567.90,172.66 L568.76,172.86 L569.62,173.05 L570.48,173.24 L571.34,173.43 L572.20,173.63 L573.06,173.82 L573.92,174.01 L574.78,174.21 L575.65,174.40 L576.51,174.60 L577.37,174.79 L578.23,174.99 L579.09,175.18 L579.95,175.38 L580.81,175.57 L581.67,175.76 L582.53,175.96 L583.39,176.15 L584.25,176.34 L585.11,176.53 L585.97,176.72 L586.83,176.91 L587.70,177.10 L588.56,177.29 L589.42,177.48 L590.28,177.67 L591.14,177.85 L592.00,178.04 L592.86,178.22 L593.72,178.40 L594.58,178.58 L595.44,178.77 L596.30,178.95 L597.16,179.12 L598.02,179.30 L598.88,179.48 L599.75,179.66 L600.61,179.84 L601.47,180.01 L602.33,180.19 L603.19,180.36 L604.05,180.54 L604.91,180.71 L605.77,180.88 L606.63,181.06 L607.49,181.23 L608.35,181.40 L609.21,181.58 L610.07,181.75 L610.93,181.92 L611.80,182.09 L612.66,182.27 L613.52,182.44 L614.38,182.61 L615.24,182.78 L616.10,182.95 L616.96,183.13 L617.82,183.30 L618.68,183.47 L619.54,183.64 L620.40,183.82 L621.26,183.99 L622.12,184.16 L622.98,184.34 L623.85,184.51 L624.71,184.69 L625.57,184.86 L626.43,185.04 L627.29,185.21 L628.15,185.39 L629.01,185.56 L629.87,185.74 L630.73,185.92 L631.59,186.09 L632.45,186.27 L633.31,186.45 L634.17,186.63 L635.04,186.80 L635.90,186.98 L636.76,187.16 L637.62,187.34 L638.48,187.51 L639.34,187.69 L640.20,187.87 L641.06,188.05 L641.92,188.22 L642.78,188.40 L643.64,188.58 L644.50,188.76 L645.36,188.93 L646.22,189.11 L647.09,189.29 L647.95,189.46 L648.81,189.64 L649.67,189.82 L650.53,189.99 L651.39,190.17 L652.25,190.34 L653.11,190.52 L653.97,190.69 L654.83,190.87 L655.69,191.04 L656.55,191.21 L657.41,191.39 L658.27,191.56 L659.14,191.73 L660.00,191.91 L660.86,192.08 L661.72,192.26 L662.58,192.43 L663.44,192.60 L664.30,192.78 L665.16,192.95 L666.02,193.13 L666.88,193.30 L667.74,193.47 L668.60,193.65 L669.46,193.82 L670.32,193.99 L671.19,194.16 L672.05,194.33 L672.91,194.50 L673.77,194.67 L674.63,194.84 L675.49,195.01 L676.35,195.18 L677.21,195.35 L678.07,195.52 L678.93,195.69 L679.79,195.85 L680.65,196.02 L681.51,196.18 L682.37,196.35 L683.24,196.51 L684.10,196.67 L684.96,196.84 L685.82,197.00 L686.68,197.16 L687.54,197.32 L688.40,197.48 L689.26,197.64 L690.12,197.80 L690.98,197.95 L691.84,198.11 L692.70,198.27 L693.56,198.43 L694.42,198.58 L695.29,198.74 L696.15,198.89 L697.01,199.05 L697.87,199.20 L698.73,199.36 L699.59,199.51 L700.45,199.66 L701.31,199.82 L702.17,199.97 L703.03,200.12 L703.89,200.27 L704.75,200.42 L705.61,200.57 L706.47,200.72 L707.34,200.87 L708.20,201.02 L709.06,201.16 L709.92,201.31 L710.78,201.46 L711.64,201.60 L712.50,201.75" fill="none" stroke="#228B22" stroke-opacity="0.8" stroke-width="8.536" stroke-linejoin="round" stroke-dasharray="8.54,25.61,34.14,25.61"/>
<path d="M160.50,244.50 L161.26,242.78 L162.03,241.07 L162.80,239.36 L163.59,237.65 L164.38,235.95 L165.18,234.26 L166.00,232.57 L166.82,230.88 L167.64,229.20 L168.48,227.53 L169.33,225.86 L170.18,224.19 L171.04,222.53 L171.91,220.88 L172.79,219.23 L173.67,217.58 L174.57,215.94 L175.47,214.31 L176.38,212.68 L177.30,211.05 L178.23,209.43 L179.17,207.81 L180.12,206.20 L181.07,204.59 L182.04,202.98 L183.02,201.38 L184.01,199.78 L185.00,198.19 L186.01,196.61 L187.02,195.03 L188.04,193.45 L189.07,191.89 L190.11,190.33 L191.15,188.77 L192.20,187.22 L193.26,185.68 L194.32,184.15 L195.39,182.62 L196.46,181.08 L197.54,179.54 L198.62,177.99 L199.72,176.45 L200.82,174.91 L201.93,173.38 L203.05,171.86 L204.18,170.35 L205.33,168.85 L206.49,167.37 L207.67,165.91 L208.86,164.47 L210.07,163.05 L211.29,161.66 L212.54,160.29 L213.81,158.96 L215.10,157.65 L216.41,156.35 L217.74,155.04 L219.10,153.73 L220.48,152.43 L221.88,151.14 L223.30,149.86 L224.74,148.60 L226.20,147.36 L227.67,146.14 L229.16,144.95 L230.67,143.80 L232.20,142.67 L233.74,141.59 L235.29,140.55 L236.86,139.55 L238.44,138.61 L240.03,137.72 L241.64,136.88 L243.27,136.04 L244.93,135.18 L246.62,134.31 L248.34,133.44 L250.08,132.59 L251.84,131.77 L253.61,130.99 L255.41,130.27 L257.21,129.63 L259.02,129.07 L260.84,128.62 L262.66,128.28 L264.48,128.07 L266.30,128.00 L268.14,128.12 L270.01,128.39 L271.87,128.73 L273.71,129.06 L275.53,129.42 L277.35,129.80 L279.17,130.23 L280.98,130.68 L282.79,131.16 L284.59,131.66 L286.39,132.19 L288.19,132.73 L289.98,133.29 L291.77,133.86 L293.56,134.45 L295.35,135.04 L297.13,135.63 L298.92,136.23 L300.70,136.83 L302.48,137.43 L304.26,138.02 L306.04,138.60 L307.82,139.18 L309.59,139.76 L311.37,140.36 L313.14,140.96 L314.91,141.57 L316.67,142.19 L318.44,142.81 L320.20,143.44 L321.96,144.07 L323.73,144.71 L325.48,145.36 L327.24,146.01 L329.00,146.66 L330.75,147.31 L332.51,147.96 L334.26,148.62 L336.02,149.27 L337.77,149.93 L339.52,150.58 L341.28,151.24 L343.03,151.90 L344.78,152.57 L346.52,153.24 L348.27,153.91 L350.02,154.59 L351.76,155.27 L353.51,155.95 L355.25,156.63 L356.99,157.32 L358.73,158.00 L360.47,158.69 L362.21,159.38 L363.95,160.08 L365.69,160.77 L367.43,161.47 L369.17,162.17 L370.90,162.86 L372.64,163.56 L374.38,164.26 L376.12,164.95 L377.86,165.65 L379.60,166.34 L381.33,167.04 L383.07,167.74 L384.81,168.45 L386.54,169.15 L388.27,169.87 L390.00,170.58 L391.73,171.30 L393.46,172.03 L395.18,172.76 L396.90,173.50 L398.61,174.25 L400.32,175.00 L402.03,175.76 L403.73,176.54 L405.43,177.32 L407.12,178.12 L408.81,178.92 L410.50,179.74 L412.18,180.56 L413.86,181.39 L415.53,182.22 L417.21,183.06 L418.88,183.90 L420.56,184.74 L422.23,185.59 L423.90,186.43 L425.57,187.28 L427.24,188.12 L428.92,188.96 L430.59,189.80 L432.27,190.63 L433.95,191.46 L435.63,192.28 L437.32,193.10 L439.01,193.92 L440.70,194.73 L442.39,195.54 L444.07,196.35 L445.76,197.17 L447.45,197.99 L449.13,198.81 L450.81,199.64 L452.49,200.47 L454.16,201.31 L455.83,202.16 L457.49,203.02 L459.14,203.90 L460.79,204.78 L462.42,205.68 L464.05,206.59 L465.67,207.52 L467.29,208.46 L468.89,209.41 L470.50,210.37 L472.10,211.34 L473.69,212.33 L475.28,213.32 L476.87,214.32 L478.45,215.33 L480.02,216.35 L481.60,217.37 L483.17,218.39 L484.73,219.42 L486.30,220.45 L487.86,221.49 L489.42,222.53 L490.98,223.57 L492.53,224.60 L494.09,225.64 L495.65,226.68 L497.20,227.73 L498.76,228.77 L500.32,229.82 L501.87,230.87 L503.42,231.93 L504.97,233.00 L506.51,234.07 L508.05,235.15 L509.57,236.23 L511.09,237.33 L512.60,238.44 L514.10,239.55 L515.59,240.68 L517.07,241.82 L518.53,242.97 L519.98,244.14 L521.42,245.32 L522.84,246.53 L524.25,247.75 L525.66,248.98 L527.05,250.23 L528.43,251.49 L529.81,252.76 L531.18,254.04 L532.54,255.33 L533.90,256.62 L535.26,257.92 L536.61,259.22 L537.96,260.53 L539.31,261.83 L540.66,263.14 L542.00,264.44 L543.36,265.74 L544.71,267.03 L546.07,268.32 L547.45,269.60 L548.84,270.87 L550.24,272.14 L551.65,273.40 L553.06,274.66 L554.47,275.93 L555.88,277.19 L557.28,278.47 L558.66,279.75 L560.03,281.04 L561.37,282.35 L562.69,283.67 L563.99,285.00 L565.25,286.36 L566.48,287.74 L567.67,289.14 L568.81,290.57 L569.92,292.03 L571.00,293.51 L572.05,295.03 L573.08,296.57 L574.09,298.13 L575.08,299.72 L576.06,301.32 L577.01,302.94 L577.96,304.56 L578.90,306.20 L579.82,307.85 L580.75,309.50 L581.67,311.16 L582.58,312.81 L583.50,314.46 L584.43,316.11 L585.36,317.75 L586.30,319.38 L587.25,321.00 L588.21,322.60 L589.18,324.21 L590.16,325.81 L591.14,327.40 L592.13,329.00 L593.12,330.60 L594.10,332.20 L595.08,333.80 L596.05,335.40 L597.02,337.01 L597.97,338.63 L598.92,340.24 L599.84,341.87 L600.75,343.50 L601.64,345.14 L602.51,346.79 L603.35,348.45 L604.17,350.12 L604.97,351.80 L605.75,353.50 L606.51,355.20 L607.26,356.91 L608.00,358.63 L608.72,360.35 L609.44,362.09 L610.15,363.82 L610.85,365.56 L611.55,367.30 L612.24,369.05 L612.94,370.79 L613.63,372.53 L614.33,374.27 L615.04,376.01 L615.75,377.75 L616.47,379.48 L617.20,381.21 L617.94,382.93 L618.69,384.64 L619.45,386.35 L620.22,388.06 L621.00,389.77 L621.78,391.47 L622.56,393.17 L623.35,394.87 L624.13,396.58 L624.91,398.28 L625.68,399.98 L626.45,401.69 L627.21,403.40 L627.96,405.12 L628.69,406.84 L629.41,408.56 L630.12,410.29 L630.81,412.03 L631.48,413.77 L632.14,415.52 L632.79,417.27 L633.43,419.03 L634.07,420.79 L634.69,422.55 L635.31,424.32 L635.92,426.09 L636.53,427.86 L637.14,429.64 L637.74,431.41 L638.34,433.18 L638.94,434.96 L639.55,436.73 L640.15,438.51 L640.76,440.28 L641.37,442.05 L641.98,443.82 L642.61,445.58 L643.23,447.35 L643.86,449.11 L644.50,450.87 L645.13,452.64 L645.77,454.40 L646.40,456.16 L647.04,457.92 L647.67,459.68 L648.31,461.44 L648.94,463.21 L649.57,464.97 L650.19,466.73 L650.81,468.50 L651.43,470.27 L652.03,472.04 L652.64,473.81 L653.23,475.58 L653.82,477.36 L654.40,479.14 L654.97,480.92 L655.53,482.71 L656.09,484.49 L656.64,486.28 L657.19,488.07 L657.74,489.86 L658.28,491.65 L658.82,493.44 L659.36,495.24 L659.90,497.03 L660.44,498.82 L660.98,500.62 L661.52,502.41 L662.06,504.20 L662.61,505.99 L663.16,507.78 L663.71,509.57 L664.27,511.36 L664.83,513.14 L665.40,514.93 L665.97,516.71 L666.54,518.49 L667.12,520.27 L667.69,522.06 L668.27,523.84 L668.85,525.62 L669.42,527.40 L670.00,529.18 L670.57,530.97 L671.14,532.75 L671.70,534.53 L672.26,536.32 L672.82,538.11 L673.36,539.90 L673.91,541.69 L674.44,543.48 L674.97,545.28 L675.50,547.07 L676.02,548.87 L676.54,550.67 L677.06,552.47 L677.57,554.27 L678.08,556.07 L678.58,557.87 L679.09,559.67 L679.59,561.48 L680.10,563.28 L680.60,565.08 L681.10,566.89 L681.60,568.69 L682.10,570.50 L682.61,572.30 L683.11,574.10 L683.61,575.90 L684.12,577.71 L684.63,579.51 L685.14,581.31 L685.64,583.11 L686.15,584.91 L686.66,586.72 L687.17,588.52 L687.68,590.32 L688.18,592.12 L688.69,593.93 L689.19,595.73 L689.69,597.53 L690.18,599.34 L690.67,601.15 L691.16,602.95 L691.65,604.76 L692.13,606.57 L692.60,608.38 L693.07,610.19 L693.53,612.01 L693.99,613.82 L694.44,615.64 L694.89,617.45 L695.33,619.27 L695.77,621.09 L696.21,622.91 L696.65,624.73 L697.09,626.55 L697.53,628.37 L697.97,630.19 L698.41,632.01 L698.85,633.83 L699.30,635.65 L699.74,637.47 L700.19,639.28 L700.65,641.10 L701.11,642.91 L701.57,644.73 L702.03,646.54 L702.50,648.36 L702.97,650.17 L703.44,651.98 L703.91,653.79 L704.38,655.60 L704.85,657.41 L705.33,659.23 L705.80,661.04 L706.27,662.85 L706.75,664.66 L707.22,666.47 L707.70,668.28 L708.17,670.09 L708.64,671.90 L709.11,673.72 L709.58,675.53 L710.05,677.34 L710.52,679.15 L710.99,680.96 L711.46,682.78 L711.93,684.59 L712.40,686.40" fill="none" stroke="#A020F0" stroke-opacity="0.8" stroke-width="8.536" stroke-linejoin="round" stroke-dasharray="34.14,34.14"/>
<path d="M160.40,391.80 L161.79,393.86 L163.18,395.92 L164.57,397.98 L165.96,400.04 L167.34,402.10 L168.72,404.16 L170.10,406.23 L171.48,408.30 L172.84,410.38 L174.21,412.45 L175.57,414.53 L176.95,416.60 L178.33,418.66 L179.74,420.71 L181.15,422.75 L182.57,424.78 L184.01,426.81 L185.45,428.83 L186.89,430.85 L188.34,432.87 L189.80,434.88 L191.26,436.89 L192.73,438.90 L194.19,440.90 L195.66,442.91 L197.13,444.91 L198.60,446.91 L200.07,448.92 L201.53,450.92 L203.00,452.93 L204.46,454.94 L205.92,456.95 L207.37,458.97 L208.81,460.99 L210.24,463.02 L211.65,465.08 L213.05,467.14 L214.45,469.20 L215.87,471.24 L217.32,473.25 L218.82,475.21 L220.40,477.12 L222.05,478.97 L223.77,480.77 L225.50,482.56 L227.22,484.37 L228.89,486.20 L230.49,488.10 L232.01,490.05 L233.49,492.05 L234.93,494.08 L236.37,496.11 L237.82,498.13 L239.30,500.13 L240.82,502.09 L242.38,504.01 L243.96,505.92 L245.55,507.83 L247.15,509.72 L248.77,511.60 L250.40,513.47 L252.04,515.34 L253.69,517.20 L255.36,519.05 L257.03,520.89 L258.71,522.73 L260.39,524.56 L262.09,526.38 L263.79,528.20 L265.49,530.01 L267.20,531.82 L268.91,533.62 L270.63,535.42 L272.34,537.22 L274.06,539.02 L275.78,540.81 L277.52,542.57 L279.28,544.33 L281.05,546.07 L282.83,547.81 L284.59,549.56 L286.34,551.32 L288.06,553.11 L289.75,554.94 L291.42,556.80 L293.08,558.65 L294.76,560.48 L296.47,562.28 L298.23,564.02 L300.06,565.68 L301.94,567.28 L303.88,568.85 L305.84,570.38 L307.81,571.90 L309.78,573.43 L311.72,574.98 L313.65,576.54 L315.58,578.11 L317.51,579.68 L319.43,581.25 L321.36,582.82 L323.28,584.39 L325.21,585.96 L327.13,587.53 L329.05,589.11 L330.98,590.68 L332.90,592.25 L334.83,593.82 L336.75,595.38 L338.68,596.95 L340.62,598.51 L342.55,600.07 L344.49,601.62 L346.43,603.18 L348.37,604.72 L350.32,606.26 L352.27,607.81 L354.21,609.36 L356.14,610.93 L358.09,612.49 L360.04,614.03 L362.02,615.53 L364.02,616.98 L366.07,618.38 L368.15,619.71 L370.27,621.00 L372.41,622.26 L374.58,623.50 L376.75,624.71 L378.92,625.93 L381.09,627.14 L383.26,628.35 L385.44,629.54 L387.63,630.73 L389.83,631.89 L392.03,633.03 L394.25,634.14 L396.48,635.21 L398.73,636.26 L400.98,637.29 L403.25,638.31 L405.52,639.30 L407.80,640.28 L410.09,641.25 L412.39,642.20 L414.68,643.15 L416.99,644.10 L419.29,645.03 L421.59,645.97 L423.90,646.91 L426.20,647.85 L428.50,648.80 L430.80,649.75 L433.09,650.71 L435.38,651.69 L437.66,652.67 L439.93,653.68 L442.19,654.70 L444.43,655.77 L446.66,656.88 L448.89,658.00 L451.11,659.11 L453.35,660.19 L455.61,661.21 L457.90,662.16 L460.22,663.02 L462.56,663.83 L464.93,664.60 L467.30,665.35 L469.67,666.11 L472.03,666.90 L474.37,667.73 L476.70,668.60 L479.01,669.49 L481.32,670.41 L483.63,671.33 L485.95,672.23 L488.27,673.12 L490.60,673.97 L492.94,674.79 L495.28,675.61 L497.63,676.41 L499.99,677.21 L502.34,677.99 L504.70,678.77 L507.06,679.54 L509.43,680.31 L511.79,681.07 L514.16,681.82 L516.53,682.58 L518.90,683.33 L521.26,684.08 L523.63,684.84 L526.00,685.59 L528.37,686.35 L530.73,687.11 L533.09,687.88 L535.45,688.66 L537.81,689.44 L540.17,690.23 L542.51,691.05 L544.86,691.87 L547.21,692.69 L549.56,693.49 L551.92,694.27 L554.28,695.01 L556.67,695.70 L559.06,696.35 L561.47,696.98 L563.88,697.61 L566.28,698.24 L568.68,698.89 L571.06,699.59 L573.42,700.35 L575.77,701.15 L578.12,701.98 L580.46,702.81 L582.81,703.63 L585.16,704.42 L587.53,705.16 L589.91,705.87 L592.29,706.56 L594.68,707.24 L597.07,707.90 L599.46,708.56 L601.86,709.20 L604.26,709.84 L606.67,710.46 L609.07,711.08 L611.48,711.70 L613.89,712.31 L616.30,712.92 L618.71,713.52 L621.12,714.13 L623.53,714.73 L625.95,715.34 L628.35,715.95 L630.76,716.57 L633.17,717.19 L635.57,717.82 L637.97,718.46 L640.37,719.11 L642.77,719.77 L645.16,720.43 L647.56,721.07 L649.97,721.70 L652.38,722.29 L654.79,722.85 L657.22,723.38 L659.66,723.88 L662.09,724.37 L664.53,724.85 L666.96,725.35 L669.39,725.87 L671.82,726.41 L674.23,726.98 L676.65,727.56 L679.06,728.15 L681.48,728.73 L683.89,729.32 L686.31,729.90 L688.73,730.46 L691.15,731.02 L693.57,731.58 L695.99,732.14 L698.41,732.70 L700.83,733.25 L703.25,733.81 L705.67,734.36 L708.10,734.91 L710.52,735.46 L712.94,736.00 L715.36,736.55 L717.79,737.10 L720.21,737.64 L722.63,738.19 L725.06,738.73 L727.48,739.28 L729.91,739.82 L732.33,740.37 L734.75,740.91 L737.18,741.46 L739.60,742.00 L742.02,742.54 L744.45,743.09 L746.87,743.63 L749.30,744.17 L751.72,744.71 L754.14,745.26 L756.56,745.82 L758.98,746.39 L761.40,746.95 L763.82,747.51 L766.25,748.05 L768.68,748.58 L771.11,749.08 L773.54,749.55 L775.99,750.02 L778.43,750.47 L780.87,750.91 L783.32,751.36 L785.76,751.81 L788.20,752.27 L790.64,752.74 L793.08,753.20 L795.52,753.67 L797.96,754.14 L800.40,754.61 L802.84,755.08 L805.28,755.55 L807.72,756.02 L810.16,756.49 L812.60,756.96 L815.04,757.43 L817.48,757.89 L819.92,758.36 L822.36,758.82 L824.80,759.28 L827.24,759.74 L829.68,760.20 L832.12,760.65 L834.57,761.10 L837.01,761.55 L839.45,761.99 L841.90,762.42 L844.35,762.85 L846.79,763.28 L849.24,763.71 L851.69,764.14 L854.13,764.57 L856.58,765.00 L859.02,765.44 L861.47,765.88 L863.91,766.32 L866.36,766.76 L868.80,767.20 L871.25,767.63 L873.69,768.07 L876.14,768.51 L878.58,768.95 L881.03,769.38 L883.48,769.81 L885.93,770.23 L888.37,770.65 L890.83,771.05 L893.28,771.44 L895.73,771.82 L898.19,772.19 L900.65,772.56 L903.11,772.93 L905.56,773.29 L908.02,773.65 L910.48,774.01 L912.94,774.37 L915.40,774.73 L917.86,775.09 L920.31,775.46 L922.77,775.83 L925.22,776.21 L927.68,776.60 L930.13,776.99 L932.58,777.40 L935.03,777.82 L937.47,778.24 L939.91,778.70 L942.35,779.20 L944.78,779.72 L947.21,780.24 L949.64,780.75 L952.08,781.23 L954.52,781.67 L956.97,782.05 L959.43,782.40 L961.89,782.72 L964.36,783.03 L966.83,783.35 L969.29,783.68 L971.75,784.04 L974.20,784.44 L976.64,784.87 L979.09,785.31 L981.53,785.77 L983.97,786.22 L986.42,786.65 L988.87,787.06 L991.32,787.45 L993.78,787.83 L996.23,788.20 L998.69,788.57 L1001.14,788.93 L1003.60,789.29 L1006.06,789.64 L1008.52,789.99 L1010.98,790.34 L1013.44,790.68 L1015.90,791.02 L1018.36,791.36 L1020.83,791.70 L1023.29,792.04 L1025.75,792.38 L1028.21,792.72 L1030.67,793.06 L1033.13,793.41 L1035.59,793.76 L1038.05,794.11 L1040.51,794.47 L1042.96,794.83 L1045.42,795.20 L1047.88,795.57 L1050.33,795.93 L1052.79,796.29 L1055.25,796.65 L1057.71,796.99 L1060.17,797.32 L1062.64,797.65 L1065.10,797.97 L1067.56,798.29 L1070.03,798.61 L1072.49,798.93 L1074.95,799.26 L1077.41,799.59 L1079.88,799.92 L1082.34,800.25 L1084.80,800.58 L1087.26,800.90 L1089.73,801.22 L1092.19,801.53 L1094.66,801.83 L1097.12,802.14 L1099.59,802.44 L1102.05,802.74 L1104.52,803.03 L1106.99,803.33 L1109.45,803.62 L1111.92,803.91 L1114.39,804.20 L1116.85,804.49 L1119.32,804.78 L1121.79,805.06 L1124.26,805.35 L1126.72,805.64 L1129.19,805.93 L1131.66,806.21 L1134.13,806.50 L1136.59,806.79 L1139.06,807.08 L1141.53,807.37 L1144.00,807.66 L1146.46,807.95 L1148.93,808.24 L1151.40,808.53 L1153.86,808.82 L1156.33,809.11 L1158.80,809.40 L1161.26,809.70 L1163.73,809.99 L1166.20,810.29 L1168.66,810.58 L1171.13,810.87 L1173.60,811.15 L1176.07,811.42 L1178.54,811.68 L1181.01,811.94 L1183.48,812.19 L1185.95,812.44 L1188.42,812.69 L1190.90,812.94 L1193.37,813.19 L1195.84,813.45 L1198.31,813.71 L1200.78,813.97 L1203.25,814.23 L1205.72,814.49 L1208.19,814.75 L1210.66,815.01 L1213.13,815.27 L1215.60,815.54 L1218.07,815.80 L1220.54,816.05 L1223.01,816.31 L1225.48,816.57 L1227.96,816.82 L1230.43,817.07 L1232.90,817.32 L1235.37,817.56 L1237.84,817.81 L1240.31,818.04 L1242.79,818.28 L1245.26,818.50 L1247.74,818.72 L1250.21,818.94 L1252.69,819.15 L1255.16,819.36 L1257.63,819.58 L1260.11,819.81 L1262.58,820.04 L1265.05,820.27 L1267.53,820.51 L1270.00,820.75" fill="none" stroke="#8B7500" stroke-opacity="0.8" stroke-width="8.536" stroke-linejoin="round" stroke-dasharray="17.07,17.07,51.22,17.07"/>
</g>
<g class="border" fill="#333">
<rect x="105" y="82.9" width="1.45" height="774.2"/>
<rect x="105" y="82.9" width="1221.4" height="1.45"/>
<rect x="1324" y="82.9" width="2.4" height="774.2"/>
<rect x="105" y="854.55" width="1221.4" height="2.55"/>
</g>
<g class="ticks">
<line x1="154.90" x2="154.90" y1="855.7" y2="865.1" stroke="#333" stroke-width="2.84"/>
<line x1="433.67" x2="433.67" y1="855.7" y2="865.1" stroke="#333" stroke-width="2.84"/>
<line x1="712.43" x2="712.43" y1="855.7" y2="865.1" stroke="#333" stroke-width="2.84"/>
<line x1="991.20" x2="991.20" y1="855.7" y2="865.1" stroke="#333" stroke-width="2.84"/>
<line x1="1269.96" x2="1269.96" y1="855.7" y2="865.1" stroke="#333" stroke-width="2.84"/>
<line x1="95.7" x2="105" y1="772.50" y2="772.50" stroke="#333" stroke-width="2.84"/>
<line x1="95.7" x2="105" y1="600.75" y2="600.75" stroke="#333" stroke-width="2.84"/>
<line x1="95.7" x2="105" y1="429.00" y2="429.00" stroke="#333" stroke-width="2.84"/>
<line x1="95.7" x2="105" y1="257.25" y2="257.25" stroke="#333" stroke-width="2.84"/>
<line x1="95.7" x2="105" y1="85.50" y2="85.50" stroke="#333" stroke-width="2.84"/>
</g>
<g class="tick">
<text x="154.90" y="894.8" text-anchor="middle">0</text>
<text x="433.67" y="894.8" text-anchor="middle">50</text>
<text x="712.43" y="894.8" text-anchor="middle">100</text>
<text x="991.20" y="894.8" text-anchor="middle">150</text>
<text x="1269.96" y="894.8" text-anchor="middle">200</text>
<text x="87.7" y="784.40" text-anchor="end">1</text>
<text x="87.7" y="612.65" text-anchor="end">2</text>
<text x="87.7" y="440.90" text-anchor="end">3</text>
<text x="87.7" y="269.15" text-anchor="end">4</text>
<text x="87.7" y="97.40" text-anchor="end">5</text>
</g>
<text class="ttl" y="51.1"><tspan x="645.3">ρ</tspan><tspan x="669.7"> =-0.1</tspan></text>
<text class="axt" x="715.2" y="939.8" text-anchor="middle" letter-spacing="-0.3">Rank</text>
<text class="axt" transform="translate(46,470.3) rotate(-90)" text-anchor="middle" letter-spacing="-0.2">Average Width</text>
</svg>
</body></html>
